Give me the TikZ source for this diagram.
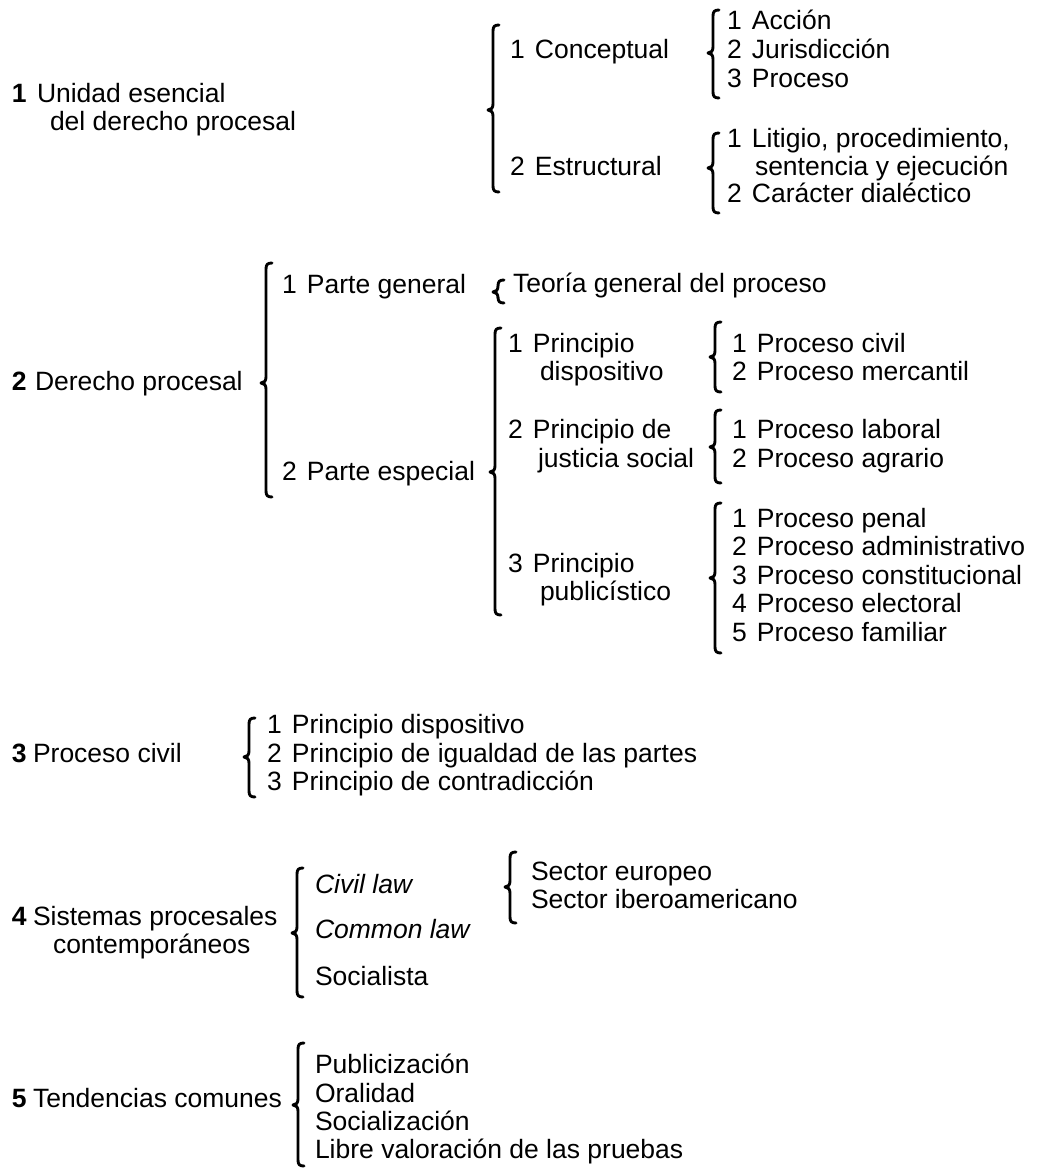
\documentclass[tikz,border=0pt]{standalone}
\usepackage{fontspec}
\setmainfont{Liberation Sans}

% fixed-width slot for the item numbers, so the item texts line up
\newcommand\inum[1]{\makebox[25pt][l]{#1}}

% curly brace: x of the stem, top end, tip height, bottom end
\newcommand\cbrace[4]{%
  \draw[bracestyle]
    (#1+6,#2) .. controls (#1+1.5,#2) and (#1,#2+1.5) .. (#1,#2+6)
    -- (#1,#3-6) .. controls (#1,#3-2) and (#1-2,#3) .. (#1-5,#3)
    .. controls (#1-2,#3) and (#1,#3+2) .. (#1,#3+6)
    -- (#1,#4-6) .. controls (#1,#4-1.5) and (#1+1.5,#4) .. (#1+6,#4);}

\begin{document}
\begin{tikzpicture}[x=1pt,y=-1pt,
  txt/.style={anchor=base west,inner sep=0pt,outer sep=0pt,
              font=\fontsize{26.5}{30}\selectfont},
  head/.style={txt,font=\fontsize{26.5}{30}\selectfont\bfseries},
  itx/.style={txt,font=\fontsize{26.5}{30}\selectfont\itshape},
  bracestyle/.style={line width=2.9pt,line cap=round,line join=round}]
\useasboundingbox[fill=white] (0,0) rectangle (1037,1168);

% ---------- 1 Unidad esencial del derecho procesal ----------
\node[head] (s1n) at (12,102) {1};
\node[txt]  (s1a) at (37,102) {Unidad esencial};
\node[txt]  (s1b) at (50,130) {del derecho procesal};
\cbrace{493}{25}{110}{192}
\node[txt] (s1c1) at (510,58)  {\inum{1}Conceptual};
\node[txt] (s1c2) at (510,175) {\inum{2}Estructural};
\cbrace{713}{10}{53}{98}
\node[txt] (s1d1) at (727,29) {\inum{1}Acción};
\node[txt] (s1d2) at (727,58) {\inum{2}Jurisdicción};
\node[txt] (s1d3) at (727,87) {\inum{3}Proceso};
\cbrace{713}{133}{168}{213}
\node[txt] (s1e1) at (727,147) {\inum{1}Litigio, procedimiento,};
\node[txt] (s1e2) at (755,175) {sentencia y ejecución};
\node[txt] (s1e3) at (727,202) {\inum{2}Carácter dialéctico};

% ---------- 2 Derecho procesal ----------
\node[head] (s2n) at (12,390) {2};
\node[txt]  (s2a) at (35,390) {Derecho procesal};
\cbrace{266}{263}{383}{497}
\node[txt] (s2g) at (282,293) {\inum{1}Parte general};
\node[txt] (s2e) at (282,480) {\inum{2}Parte especial};
\cbrace{498}{280}{292}{303}
\node[txt] (s2t) at (513,292) {Teoría general del proceso};
\cbrace{495}{328}{472}{615}
\node[txt] (s2p1) at (508,352) {\inum{1}Principio};
\node[txt] (s2p1b) at (540,380) {dispositivo};
\node[txt] (s2p2) at (508,438) {\inum{2}Principio de};
\node[txt] (s2p2b) at (538,467) {justicia social};
\node[txt] (s2p3) at (508,572) {\inum{3}Principio};
\node[txt] (s2p3b) at (540,600) {publicístico};
\cbrace{715}{322}{357}{392}
\node[txt] (s2q1) at (732,352) {\inum{1}Proceso civil};
\node[txt] (s2q2) at (732,380) {\inum{2}Proceso mercantil};
\cbrace{715}{410}{447}{483}
\node[txt] (s2r1) at (732,438) {\inum{1}Proceso laboral};
\node[txt] (s2r2) at (732,467) {\inum{2}Proceso agrario};
\cbrace{715}{503}{578}{653}
\node[txt] (s2u1) at (732,527)   {\inum{1}Proceso penal};
\node[txt] (s2u2) at (732,555.5) {\inum{2}Proceso administrativo};
\node[txt] (s2u3) at (732,584)   {\inum{3}Proceso constitucional};
\node[txt] (s2u4) at (732,612.5) {\inum{4}Proceso electoral};
\node[txt] (s2u5) at (732,641)   {\inum{5}Proceso familiar};

% ---------- 3 Proceso civil ----------
\node[head] (s3n) at (12,762) {3};
\node[txt]  (s3a) at (33,762) {Proceso civil};
\cbrace{249}{718}{757}{797}
\node[txt] (s3i1) at (267,733) {\inum{1}Principio dispositivo};
\node[txt] (s3i2) at (267,762) {\inum{2}Principio de igualdad de las partes};
\node[txt] (s3i3) at (267,790) {\inum{3}Principio de contradicción};

% ---------- 4 Sistemas procesales contemporáneos ----------
\node[head] (s4n) at (12,925) {4};
\node[txt]  (s4a) at (33,925) {Sistemas procesales};
\node[txt]  (s4b) at (53,953) {contemporáneos};
\cbrace{297}{868}{933}{997}
\node[itx] (s4c) at (315,893) {Civil law};
\node[itx] (s4m) at (315,938) {Common law};
\node[txt] (s4s) at (315,985) {Socialista};
\cbrace{510}{852}{887}{923}
\node[txt] (s4e) at (531,880) {Sector europeo};
\node[txt] (s4i) at (531,908) {Sector iberoamericano};

% ---------- 5 Tendencias comunes ----------
\node[head] (s5n) at (12,1107) {5};
\node[txt]  (s5a) at (33,1107) {Tendencias comunes};
\cbrace{298}{1043}{1105}{1166}
\node[txt] (s5i1) at (315,1073) {Publicización};
\node[txt] (s5i2) at (315,1102) {Oralidad};
\node[txt] (s5i3) at (315,1130) {Socialización};
\node[txt] (s5i4) at (315,1158) {Libre valoración de las pruebas};
\end{tikzpicture}
\end{document}
